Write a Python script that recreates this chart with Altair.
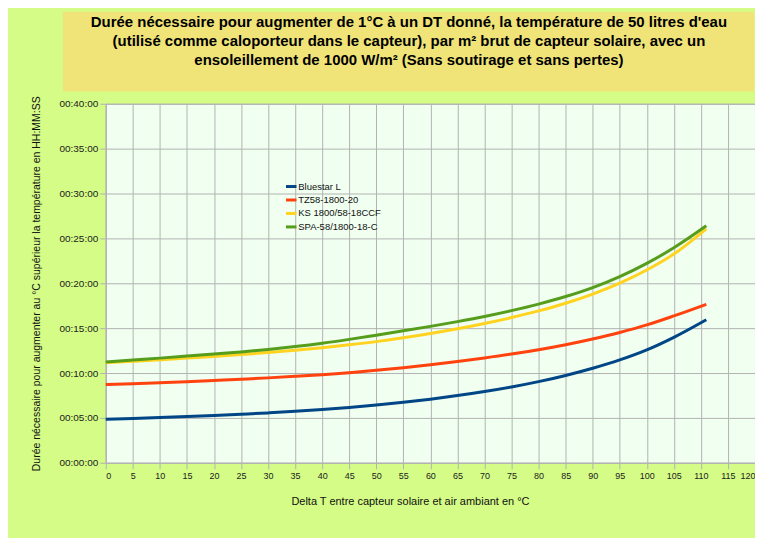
import altair as alt
import pandas as pd

# --- data (minutes) ---
delta_t = [0, 5, 10, 15, 20, 25, 30, 35, 40, 45, 50, 55, 60, 65, 70, 75, 80, 85, 90, 95, 100, 105, 111]
bluestar = [4.85, 4.94, 5.04, 5.15, 5.27, 5.41, 5.56, 5.73, 5.93, 6.16, 6.43, 6.74, 7.09, 7.49, 7.94, 8.45, 9.04, 9.73, 10.53, 11.46, 12.58, 13.98, 15.94]
tz58 = [8.71, 8.81, 8.92, 9.04, 9.17, 9.31, 9.46, 9.63, 9.82, 10.04, 10.30, 10.60, 10.93, 11.29, 11.68, 12.11, 12.60, 13.16, 13.80, 14.52, 15.36, 16.36, 17.65]
ks1800 = [11.15, 11.31, 11.48, 11.66, 11.85, 12.06, 12.29, 12.54, 12.82, 13.14, 13.50, 13.92, 14.40, 14.93, 15.52, 16.18, 16.92, 17.78, 18.80, 20.02, 21.48, 23.25, 26.06]
spa58 = [11.22, 11.44, 11.66, 11.89, 12.12, 12.35, 12.63, 12.95, 13.32, 13.75, 14.22, 14.70, 15.20, 15.73, 16.30, 16.95, 17.68, 18.52, 19.52, 20.75, 22.22, 23.95, 26.40]

series_names = ["Bluestar L", "TZ58-1800-20", "KS 1800/58-18CCF", "SPA-58/1800-18-C"]
series_values = [bluestar, tz58, ks1800, spa58]
series_colors = ["#004586", "#ff420e", "#ffd320", "#579d1c"]

title_lines = [
    "Durée nécessaire pour augmenter de 1°C   à un DT donné,  la température de 50 litres d'eau",
    "(utilisé comme caloporteur dans le capteur), par m² brut de capteur solaire, avec un",
    "ensoleillement de 1000 W/m²  (Sans soutirage et sans pertes)",
]
x_title = "Delta T entre capteur solaire et air ambiant en °C"
y_title = "Durée nécessaire pour augmenter au °C supérieur la température en HH:MM:SS"

rows = []
for name, vals in zip(series_names, series_values):
    for x, v in zip(delta_t, vals):
        rows.append({"dt": x, "minutes": v, "serie": name})
df = pd.DataFrame(rows)

one = pd.DataFrame({"a": [0]})

W, H = 651, 360
GRID = "#b3b3b3"

box = alt.Chart(one).mark_rect(color="#f0e478").encode(
    x=alt.value(-43), x2=alt.value(650), y=alt.value(-92.3), y2=alt.value(-12.3)
)

title = alt.Chart(one).mark_text(
    font="Liberation Sans", fontSize=15, fontWeight="bold", color="#000000",
    lineBreak="\n", lineHeight=19, align="center", baseline="middle",
).encode(
    x=alt.value(304), y=alt.value(-82), text=alt.value("\n".join(title_lines))
)

lines = alt.Chart(df).mark_line(strokeWidth=3, interpolate="monotone").encode(
    x=alt.X("dt:Q",
            scale=alt.Scale(domain=[0, 120], nice=False, zero=True),
            axis=alt.Axis(title=x_title, values=list(range(0, 121, 5)),
                          titleX=305, titleY=39, titleBaseline="middle",
                          titleAlign="center", titleFontSize=11)),
    y=alt.Y("minutes:Q",
            scale=alt.Scale(domain=[0, 40], nice=False),
            axis=alt.Axis(title=y_title, values=list(range(0, 41, 5)),
                          labelExpr="'00:' + (datum.value < 10 ? '0' : '') + datum.value + ':00'",
                          titleX=-69, titleY=180, titleBaseline="middle",
                          titleAlign="center", titleAngle=270, titleFontSize=10.5)),
    color=alt.Color("serie:N",
                    scale=alt.Scale(domain=series_names, range=series_colors),
                    sort=series_names,
                    legend=alt.Legend(title=None, orient="none", legendX=179, legendY=76,
                                      symbolType="stroke", symbolStrokeWidth=3,
                                      symbolSize=110, labelFontSize=9.5,
                                      labelFont="Liberation Sans", labelColor="#111111",
                                      rowPadding=0.5, labelOffset=0, padding=0)),
    order=alt.value(0),
)

chart = alt.layer(box, title, lines).properties(
    width=W, height=H,
    autosize=alt.AutoSizeParams(type="none"),
    padding={"left": 98, "top": 95.3, "right": 0, "bottom": 75},
    background="#d4fc86",
).configure_view(
    fill="#f0fff0", stroke=GRID, strokeWidth=1
).configure_axis(
    grid=True, gridColor=GRID, gridWidth=1, gridOpacity=1,
    domainColor=GRID, domainWidth=1, tickColor=GRID, tickSize=6, tickWidth=1,
    labelFont="Liberation Sans", labelFontSize=10, labelColor="#222222",
    titleFont="Liberation Sans", titleFontWeight="normal",
    titleColor="#111111", labelPadding=2,
).configure_axisX(
    labelFontSize=9, labelPadding=3
)

chart.save("out.html", embed_options={"renderer": "svg", "actions": False})
